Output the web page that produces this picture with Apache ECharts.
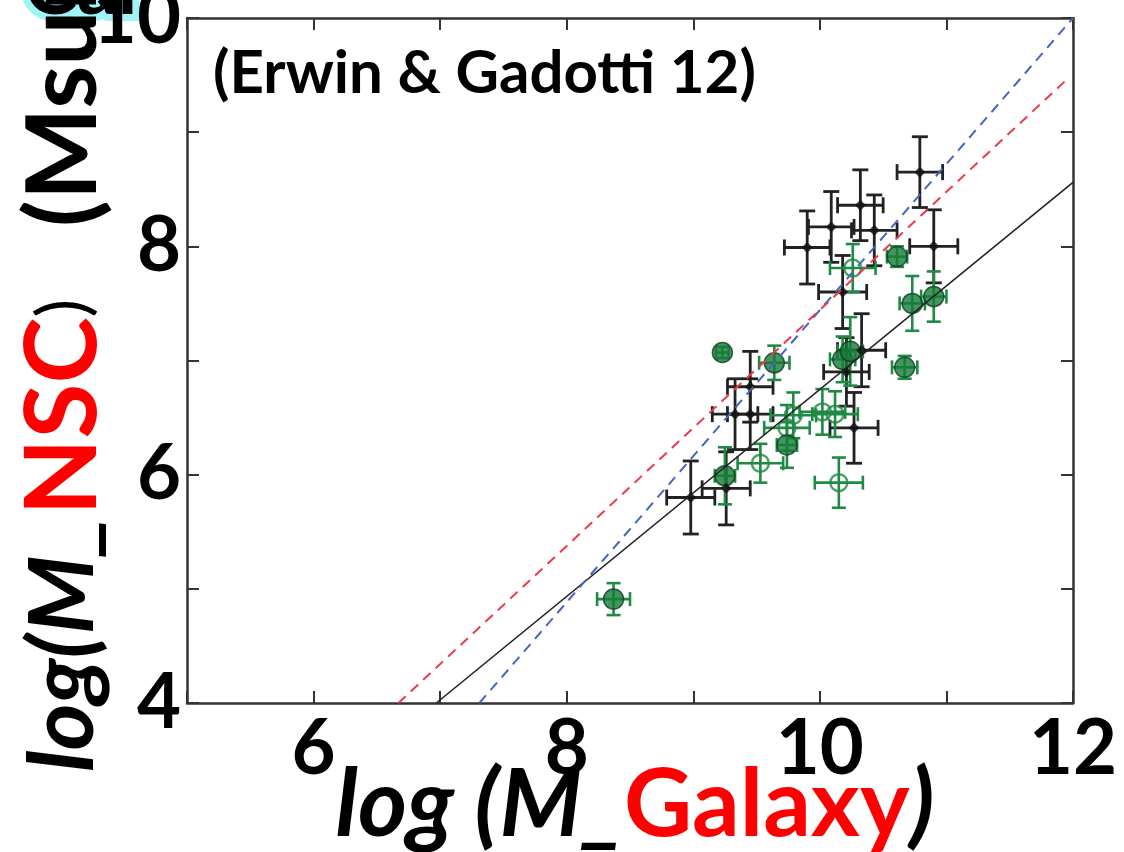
<!DOCTYPE html>
<html>
<head>
<meta charset="utf-8">
<script src="https://cdn.jsdelivr.net/npm/echarts@6/dist/echarts.min.js"></script>
<style>
  html, body { margin: 0; padding: 0; background: #fff; }
  #chart { width: 1124px; height: 852px; }
</style>
</head>
<body>
<div id="chart"></div>
<script>
// tick labels shown on the axes
const xLabels = [6, 8, 10, 12];
const yLabels = [4, 6, 8, 10];

// black points (x, y, x error, y error)
const blackX = [10.79, 10.32, 10.09, 9.90, 10.43, 10.90, 10.18, 10.33, 10.21, 10.27, 8.98, 9.45, 9.33, 9.45, 9.26];
const blackY = [8.65, 8.36, 8.17, 7.99, 8.14, 8.00, 7.60, 7.09, 6.90, 6.41, 5.80, 6.77, 6.53, 6.53, 5.88];
const blackXErr = [0.18, 0.18, 0.18, 0.18, 0.18, 0.19, 0.19, 0.19, 0.18, 0.19, 0.19, 0.18, 0.18, 0.18, 0.19];
const blackYErr = [0.31, 0.31, 0.31, 0.32, 0.31, 0.32, 0.32, 0.32, 0.3, 0.31, 0.32, 0.31, 0.31, 0.31, 0.32];

// green filled points
const fillX = [10.61, 10.73, 10.90, 9.23, 9.64, 10.67, 10.18, 10.24, 9.74, 9.25, 8.37];
const fillY = [7.91, 7.50, 7.56, 7.07, 6.98, 6.94, 7.01, 7.08, 6.26, 5.99, 4.91];
const fillXErr = [0.08, 0.1, 0.1, 0.05, 0.12, 0.1, 0.1, 0.1, 0.08, 0.08, 0.13];
const fillYErr = [0.09, 0.24, 0.22, 0.05, 0.15, 0.1, 0.2, 0.3, 0.2, 0.25, 0.14];

// green open points
const openX = [10.26, 9.79, 9.74, 10.02, 10.12, 9.53, 10.15];
const openY = [7.81, 6.52, 6.41, 6.55, 6.53, 6.10, 5.93];
const openXErr = [0.18, 0.18, 0.18, 0.18, 0.18, 0.18, 0.19];
const openYErr = [0.21, 0.2, 0.2, 0.2, 0.2, 0.17, 0.22];

// fit lines (end points)
const fitBlack = [[6.97, 4], [12, 8.56]];
const fitBlue = [[7.31, 4], [12, 10]];
const fitRed = [[6.67, 4], [11.95, 9.46]];

function pack(xs, ys, exs, eys) {
  return xs.map(function (x, i) { return [x, ys[i], exs[i], eys[i]]; });
}

function errBars(color, cap, width) {
  return function (params, api) {
    const x = api.value(0), y = api.value(1);
    const ex = api.value(2), ey = api.value(3);
    const c = api.coord([x, y]);
    const l = api.coord([x - ex, y]);
    const r = api.coord([x + ex, y]);
    const t = api.coord([x, y + ey]);
    const b = api.coord([x, y - ey]);
    const style = { stroke: color, lineWidth: width };
    return {
      type: 'group',
      children: [
        { type: 'line', shape: { x1: l[0], y1: c[1], x2: r[0], y2: c[1] }, style: style },
        { type: 'line', shape: { x1: l[0], y1: c[1] - cap, x2: l[0], y2: c[1] + cap }, style: style },
        { type: 'line', shape: { x1: r[0], y1: c[1] - cap, x2: r[0], y2: c[1] + cap }, style: style },
        { type: 'line', shape: { x1: c[0], y1: t[1], x2: c[0], y2: b[1] }, style: style },
        { type: 'line', shape: { x1: c[0] - cap, y1: t[1], x2: c[0] + cap, y2: t[1] }, style: style },
        { type: 'line', shape: { x1: c[0] - cap, y1: b[1], x2: c[0] + cap, y2: b[1] }, style: style }
      ]
    };
  };
}

const black = pack(blackX, blackY, blackXErr, blackYErr);
const filled = pack(fillX, fillY, fillXErr, fillYErr);
const open = pack(openX, openY, openXErr, openYErr);

const green = '#1f8a44';
const font = 'Lato, "Open Sans", sans-serif';

const chart = echarts.init(document.getElementById('chart'));

const baseX = {
  type: 'value', min: 5, max: 12, interval: 1,
  axisLine: { onZero: false, lineStyle: { color: '#333', width: 2.5 } },
  axisTick: { inside: true, length: 12, lineStyle: { color: '#333', width: 2 } },
  splitLine: { show: false }
};
const baseY = {
  type: 'value', min: 4, max: 10, interval: 1,
  axisLine: { onZero: false, lineStyle: { color: '#333', width: 2.5 } },
  axisTick: { inside: true, length: 12, lineStyle: { color: '#333', width: 2 } },
  splitLine: { show: false }
};

const option = {
  animation: false,
  backgroundColor: '#fff',
  grid: { left: 187, right: 51, top: 18, bottom: 149, outerBoundsMode: 'none', containLabel: false },
  xAxis: [
    Object.assign({}, baseX, {
      position: 'bottom',
      axisLabel: {
        margin: 8, color: '#000', fontFamily: font, fontWeight: 'bold', fontSize: 76,
        formatter: function (v) { return xLabels.indexOf(v) >= 0 ? String(v) : ''; }
      }
    }),
    Object.assign({}, baseX, { position: 'top', axisLabel: { show: false } })
  ],
  yAxis: [
    Object.assign({}, baseY, {
      position: 'left',
      axisLabel: {
        margin: 6, color: '#000', fontFamily: font, fontWeight: 'bold', fontSize: 76,
        formatter: function (v) { return yLabels.indexOf(v) >= 0 ? String(v) : ''; }
      }
    }),
    Object.assign({}, baseY, { position: 'right', axisLabel: { show: false } })
  ],
  graphic: [
    {
      type: 'text', left: 213, top: 44,
      style: { text: '(Erwin & Gadotti 12)', fill: '#000', font: 'bold 60px ' + font }
    },
    {
      type: 'text', x: 24, y: -52, z: -1,
      style: {
        text: 'Cal', fill: '#000', font: 'bold 80px ' + font,
        stroke: '#9ff4f8', lineWidth: 14,
        shadowColor: '#5fe8f0', shadowBlur: 16
      }
    },
    {
      type: 'text', x: 635, y: 806,
      style: {
        text: '{a|log (M_}{b|Galaxy}{a|)}',
        align: 'center', verticalAlign: 'middle',
        rich: {
          a: { fill: '#000', font: 'italic bold 94px ' + font },
          b: { fill: '#ff0000', font: 'bold 94px ' + font }
        }
      }
    },
    {
      type: 'text', x: 64, y: 772, rotation: Math.PI / 2,
      style: {
        text: '{a|log(M_}{b|NSC}{c|)    }{d|(Msun)}',
        align: 'left', verticalAlign: 'middle',
        rich: {
          a: { fill: '#000', font: 'italic bold 90px ' + font },
          b: { fill: '#ff0000', font: 'bold 100px ' + font },
          c: { fill: '#000', font: '70px ' + font },
          d: { fill: '#000', font: 'bold 98px ' + font }
        }
      }
    }
  ],
  series: [
    {
      type: 'custom', name: 'black err', renderItem: errBars('#222', 8, 2.8),
      data: black, z: 2, silent: true
    },
    {
      type: 'custom', name: 'open err', renderItem: errBars(green, 7, 2.6),
      data: open, z: 2, silent: true
    },
    {
      type: 'custom', name: 'filled err', renderItem: errBars(green, 7, 2.6),
      data: filled, z: 2, silent: true
    },
    {
      type: 'scatter', name: 'open', data: open, symbol: 'circle', symbolSize: 17, z: 3,
      itemStyle: { color: 'rgba(255,255,255,0)', borderColor: green, borderWidth: 2.5 }
    },
    {
      type: 'scatter', name: 'filled', data: filled, symbol: 'circle', symbolSize: 20, z: 3,
      itemStyle: { color: '#177a3a', borderColor: '#0e3d20', borderWidth: 1.5 }
    },
    {
      type: 'scatter', name: 'black', data: black, symbol: 'diamond', symbolSize: 11, z: 4,
      itemStyle: { color: '#111' }
    },
    {
      type: 'line', data: fitBlack, symbol: 'none', z: 5,
      lineStyle: { color: '#222', width: 1.6 }
    },
    {
      type: 'line', data: fitBlue, symbol: 'none', z: 5,
      lineStyle: { color: '#4466c0', width: 2, type: [10, 7] }
    },
    {
      type: 'line', data: fitRed, symbol: 'none', z: 5,
      lineStyle: { color: '#f03848', width: 2, type: [10, 7] }
    }
  ]
};

chart.setOption(option);
window.onresize = function () {
  chart.resize();
};
</script>
</body>
</html>
